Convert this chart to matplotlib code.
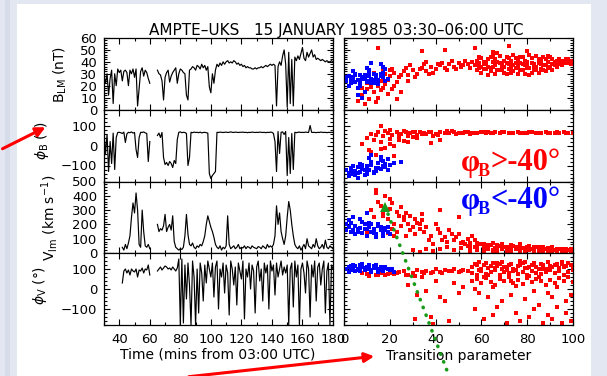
import matplotlib
matplotlib.use("Agg")
import matplotlib.pyplot as plt
import numpy as np
from matplotlib.patches import Rectangle
from matplotlib.ticker import MultipleLocator

nan = np.nan

# ---- time series, 1-min samples from 03:30 to 06:00 (mins from 03:00) ----
time_min = np.arange(30, 181)

b_lm = [
    28, 22, 30, 12, 26, 33, 5, 30, 20, 34,
    31, 33, 24, 32, 33, 31, 20, 33, 30, 34,
    27, 34, 3, 18, 32, 35, 28, 33, 31, 26,
    22, nan, nan, nan, nan, 33, 30, 29, 24, 8,
    27, 31, 33, 23, 28, 31, 33, 35, 22, 30,
    34, 33, 31, 30, 12, 8, 33, 34, 36, 35,
    33, 37, 36, 34, 38, 35, 37, 33, 36, 19,
    14, 30, 22, 33, 38, 36, 39, 37, 40, 38,
    40, 41, 39, 40, 39, 41, 40, 38, 39, 37,
    38, 36, 37, 35, 36, 35, 35, 34, 34, 35,
    34, 35, 35, 36, 35, 36, 37, 36, 37, 38,
    37, 38, 37, 3, 36, 40, 37, 45, 50, 38,
    2, 48, 5, 42, 3, 44, 41, 45, 42, 47,
    52, 43, 41, 48, 44, 47, 50, 44, 46, 42,
    43, 42, 41, 42, 41, 40, 41, 40, 40, 41,
    40,
]

phi_b = [
    60, -40, 55, -130, 20, -90, 62, -120, 40, 65,
    66, 64, 60, 67, 15, 58, 66, 64, 68, 62,
    65, -20, -60, 40, 66, 65, 68, 63, 60, -80,
    20, nan, nan, nan, nan, 50, 62, 40, 65, -60,
    -95, -85, -100, -80, -90, -110, -75, -90, 30, 66,
    68, 64, 66, 65, 60, -100, -60, 66, 64, 67,
    65, 66, 64, 67, 63, 65, 66, 64, 62, -140,
    -165, -150, -140, -130, 66, 65, 67, 66, 65, 66,
    67, 65, 66, 68, 66, 65, 67, 66, 65, 66,
    66, 67, 65, 66, 64, 66, 65, 67, 66, 65,
    66, 65, 67, 66, 65, 66, 64, 66, 65, 67,
    66, 60, 20, -130, 70, -40, 66, 68, 55, 70,
    -150, 40, -140, 60, -120, 66, 64, 66, 67, 65,
    66, 65, 67, 66, 65, 100, 66, 65, 66, 64,
    66, 65, 67, 66, 65, 66, 64, 66, 65, 66,
    65,
]

v_lm = [
    nan, nan, nan, nan, nan, nan, nan, nan, nan, nan,
    nan, nan, 40, 20, 60, 30, 70, 120, 250, 350,
    280, 420, 300, 60, 40, 300, 150, 50, 40, 60,
    30, nan, nan, nan, nan, 200, 150, 170, 160, 190,
    270, 150, 180, 200, 160, 260, 80, 40, 30, 20,
    30, 25, 40, 120, 270, 130, 60, 50, 70, 40,
    30, 50, 40, 60, 50, 80, 120, 200, 260, 220,
    180, 150, 110, 60, 40, 30, 50, 20, 40, 30,
    50, 260, 60, 30, 40, 50, 30, 40, 60, 30,
    40, 35, 50, 30, 45, 40, 30, 50, 40, 35,
    30, 45, 40, 30, 50, 40, 30, 60, 40, 50,
    40, 60, 120, 330, 200, 280, 150, 100, 60, 120,
    250, 360, 300, 200, 120, 60, 40, 30, 50, 20,
    40, 60, 30, 100, 50, 40, 30, 60, 40, 100,
    50, 30, 40, 60, 30, 90, 40, 30, 50, 40,
    30,
]

phi_v = [
    nan, nan, nan, nan, nan, nan, nan, nan, nan, nan,
    nan, nan, 30, 90, 100, 80, 95, 70, 100, 90,
    85, 100, 60, 95, 90, 105, 80, 100, 95, 120,
    70, nan, nan, nan, nan, 90, 100, 110, 95, 105,
    115, 110, 100, 105, 95, 110, 100, 90, 105, 150,
    -180, 150, -170, 120, -50, 130, 20, -180, 140, 60,
    -180, 100, -120, 130, 80, -60, 120, 30, 140, 100,
    60, 130, -40, 110, 140, -100, 100, 60, 130, -20,
    120, 80, -130, 140, 100, 20, 110, -80, 130, 90,
    50, 140, -150, 100, 60, 130, 0, 120, 90, -120,
    110, 140, 40, 100, -60, 130, 80, 120, -100, 140,
    90, 120, -30, 130, 60, 100, 140, 70, 110, 80,
    120, -180, 100, 130, -90, 140, 60, 120, -180, 100,
    130, 80, -20, 140, 100, -140, 120, 60, 140, -60,
    110, 130, 20, 100, 140, -120, 90, 130, -180, 120,
    100,
]

# ---- scatter vs transition parameter ----
# B_LM
b_blue_tp = [1, 2, 3, 4, 5, 6, 7, 8, 9, 10, 11, 12, 13, 14, 15, 16, 17, 18,
             2, 4, 6, 8, 10, 12, 14, 16, 3, 5, 7, 9, 11, 13, 15, 17, 8, 12, 16, 6, 10, 18,
             1, 3, 5, 7, 9, 11, 13, 15, 17, 19]
b_blue = [24, 28, 22, 26, 30, 25, 20, 27, 29, 24, 31, 26, 22, 28, 25, 30, 27, 24,
          20, 32, 18, 26, 35, 22, 29, 38, 27, 23, 29, 15, 33, 25, 21, 36, 10, 39, 28, 12, 23, 34,
          27, 25, 29, 23, 26, 28, 30, 23, 31, 26]
b_red_tp = [6, 8, 9, 11, 12, 13, 15, 16, 17, 19, 21, 23, 25, 10, 14, 18, 22, 8,
            10, 12, 14, 16, 18, 20, 22, 24, 26, 28, 30, 32, 34, 36, 38, 40, 42, 44,
            15, 19, 23, 27, 31, 35, 39, 43, 13, 17, 21, 25, 29, 33, 37, 41, 45, 20, 28, 36,
            46, 48, 50, 52, 54, 56, 47, 49, 51, 53, 55, 57, 44, 34, 15, 57, 72, 80, 65,
            58, 60, 62, 64, 66, 68, 70, 72, 74, 76, 78, 80, 82, 84, 86, 88, 90, 92, 94, 96, 98, 100,
            58, 60, 62, 64, 66, 68, 70, 72, 74, 76, 78, 80, 82, 84, 86, 88, 90, 92, 94, 96, 98, 100,
            58, 60, 62, 64, 66, 68, 70, 72, 74, 76, 78, 80, 82, 84, 86, 88, 90, 92, 94, 96, 98, 100,
            59, 61, 63, 65, 67, 69, 71, 73, 75, 77, 79, 81, 83, 85, 87, 89, 91, 93, 95, 97, 99,
            59, 61, 63, 65, 67, 69, 71, 73, 75, 77, 79, 81, 83, 85, 87, 89, 91, 93, 95, 97, 99,
            59, 61, 63, 65, 67, 69, 71, 73, 75, 77, 79, 81, 83, 85, 87, 89, 91, 93, 95, 97, 99]
b_red = [7, 12, 5, 9, 19, 15, 10, 16, 18, 13, 17, 9, 15, 17, 6, 21, 20, 18,
         22, 26, 29, 24, 30, 28, 31, 27, 32, 29, 33, 30, 35, 32, 36, 34, 37, 35,
         20, 25, 23, 35, 27, 38, 31, 39, 31, 33, 34, 29, 37, 34, 30, 38, 33, 33, 24, 40,
         38, 36, 39, 37, 38, 40, 41, 34, 36, 41, 35, 37, 50, 49, 52, 52, 53, 49, 48,
         41, 43, 40, 44, 42, 45, 41, 43, 46, 42, 44, 40, 43, 45, 41, 42, 44, 40, 42, 41, 42, 41,
         37, 36, 38, 35, 37, 39, 36, 38, 37, 36, 38, 37, 39, 36, 38, 37, 36, 38, 39, 40, 40, 40,
         33, 31, 34, 32, 30, 33, 31, 34, 32, 30, 33, 35, 31, 33, 34, 32, 35, 37, 38, 39, 39, 40,
         39, 34, 42, 36, 40, 34, 44, 36, 39, 33, 41, 35, 38, 42, 33, 40, 38, 41, 39, 41, 41,
         35, 40, 29, 45, 33, 38, 30, 41, 35, 44, 37, 29, 34, 31, 44, 35, 42, 39, 41, 39, 40,
         44, 38, 36, 40, 47, 35, 39, 31, 43, 39, 30, 46, 36, 39, 37, 45, 33, 36, 37, 42, 38]

# phi_B
pb_blue_tp = [1, 2, 3, 4, 5, 6, 7, 8, 9, 10, 11, 12, 13, 14, 15, 16, 17, 18, 19, 20,
              2, 4, 6, 8, 10, 12, 14, 16, 18, 3, 5, 9, 11, 13, 15, 17, 7, 19, 22, 25, 6, 12, 16]
pb_blue = [-120, -135, -110, -140, -125, -105, -130, -115, -145, -100, -120, -95, -130, -110,
           -85, -115, -100, -90, -120, -95,
           -150, -100, -135, -95, -140, -80, -125, -70, -105, -130, -145, -120, -60, -135, -110, -75,
           -90, -65, -85, -80, -160, -45, -55]
pb_red_tp = [8, 10, 11, 12, 13, 14, 15, 16, 17, 18, 19, 20, 21, 22, 23, 24, 25, 26, 27, 28,
             29, 30, 31, 32, 33, 34, 35, 12, 14, 16, 18, 20, 22, 24, 26, 28, 30, 32, 16, 20, 24,
             38, 42,
             36, 38, 40, 42, 44, 46, 48, 50, 52, 54, 56, 58, 60, 62, 64, 66, 68, 70, 72, 74, 76,
             78, 80, 82, 84, 86, 88, 90, 92, 94, 96, 98, 100,
             37, 41, 45, 49, 53, 57, 61, 65, 69, 73, 77, 81, 85, 89, 93, 97, 39, 47, 55, 63]
pb_red = [10, 40, -20, 60, 30, -45, 70, 20, 50, -10, 65, 35, 55, 0, 70, 40, 60, 25, 68, 50,
          62, 45, 66, 55, 70, 58, 65, -30, 55, 100, 75, 10, -50, 30, 72, 20, 68, 40, -15, 80, 50,
          15, 30,
          60, 66, 58, 68, 64, 62, 67, 65, 63, 66, 64, 65, 66, 64, 65, 67, 64, 66, 65, 64, 66,
          65, 64, 66, 65, 64, 66, 65, 64, 65, 66, 64, 65,
          70, 55, 72, 60, 68, 63, 66, 64, 67, 65, 63, 66, 64, 65, 66, 64, 50, 75, 58, 70]

# V_lm
v_blue_tp = [1, 2, 3, 4, 5, 6, 7, 8, 9, 10, 11, 12, 13, 14, 15, 16, 17, 18, 19, 20,
             2, 4, 6, 8, 10, 12, 14, 16, 18, 3, 5, 7, 9, 11, 13, 15, 17, 19, 1, 10]
v_blue = [200, 180, 210, 160, 190, 150, 175, 140, 200, 165, 185, 150, 170, 130, 190, 160, 145, 175, 150, 135,
          230, 250, 170, 220, 120, 200, 110, 180, 160, 150, 130, 240, 170, 210, 140, 200, 120, 180, 160, 280]
v_red_tp = [10, 12, 13, 14, 15, 16, 17, 18, 19, 20, 21, 22, 23, 24, 25, 26, 27, 28, 29, 30,
            31, 32, 33, 34, 35, 11, 15, 17, 19, 21, 23, 25, 27, 29, 31, 33, 14, 20, 26, 18, 22,
            36, 38, 40, 42, 44, 46, 48, 50, 52, 54, 56, 58, 37, 41, 45, 49, 53, 57, 39, 43, 47, 51, 55,
            34, 42, 50,
            30, 33, 36, 39, 42, 45, 48, 51, 54, 57, 60, 62, 64, 66, 68, 70, 72, 74, 76, 78, 80,
            82, 84, 86, 88, 90, 92, 94, 96, 98, 100,
            55, 58, 61, 63, 65, 67, 69, 71, 73, 75, 77, 79, 81, 83, 85, 87, 89, 91, 93, 95, 97, 99,
            55, 58, 61, 63, 65, 67, 69, 71, 73, 75, 77, 79, 81, 83, 85, 87, 89, 91, 93, 95, 97, 99,
            55, 58, 61, 63, 65, 67, 69, 71, 73, 75, 77, 79, 81, 83, 85, 87, 89, 91, 93, 95, 97, 99]
v_red = [150, 300, 250, 420, 360, 330, 280, 400, 240, 310, 350, 200, 290, 260, 320, 230, 280, 200, 260, 180,
         240, 210, 170, 230, 150, 210, 190, 260, 140, 170, 150, 190, 120, 160, 130, 200, 440, 380, 250, 170, 120,
         180, 120, 200, 140, 110, 160, 90, 130, 80, 100, 120, 70, 90, 170, 80, 110, 60, 90, 60, 90, 130, 70, 50,
         270, 300, 250,
         20, 10, 30, 15, 25, 40, 20, 35, 50, 45, 60, 40, 55, 35, 50, 45, 30, 50, 40, 35, 45,
         30, 40, 35, 25, 30, 20, 25, 15, 20, 10,
         30, 20, 35, 25, 20, 30, 25, 20, 30, 25, 15, 25, 20, 30, 15, 20, 25, 10, 15, 20, 10, 15,
         70, 50, 65, 45, 70, 55, 60, 40, 55, 45, 60, 35, 50, 40, 45, 40, 35, 40, 30, 30, 25, 20,
         10, 40, 15, 55, 10, 15, 40, 10, 15, 35, 45, 10, 30, 10, 30, 10, 10, 30, 25, 10, 20, 25]

# phi_V
pv_blue_tp = [1, 2, 3, 4, 5, 6, 7, 8, 9, 10, 11, 12, 13, 14, 15, 16, 17, 18, 19, 20, 21, 22,
              2, 4, 6, 8, 10, 12, 14, 16, 18, 3, 5, 7, 9, 11, 13, 15]
pv_blue = [100, 110, 95, 105, 115, 100, 90, 110, 105, 100, 120, 95, 105, 115, 100, 110, 90, 105, 100, 95, 100, 85,
           85, 120, 95, 125, 110, 85, 120, 95, 110, 115, 90, 120, 95, 105, 115, 85]
pv_red_tp = [8, 10, 12, 14, 16, 18, 20, 22, 24, 26, 28, 30, 32, 34, 36, 38, 40, 42, 44, 46, 48, 50, 52, 54,
             11, 15, 19, 23, 27, 31, 35, 39, 43, 47, 51,
             28, 32, 36, 40, 44, 48, 52, 31, 38, 46, 34, 42, 50, 39,
             56, 58, 60, 62, 64, 66, 68, 70, 72, 74, 76, 78, 80, 82, 84, 86, 88, 90, 92, 94, 96, 98, 100,
             56, 58, 60, 62, 64, 66, 68, 70, 72, 74, 76, 78, 80, 82, 84, 86, 88, 90, 92, 94, 96, 98, 100,
             56, 58, 60, 62, 64, 66, 68, 70, 72, 74, 76, 78, 80, 82, 84, 86, 88, 90, 92, 94, 96, 98, 100,
             57, 59, 61, 63, 65, 67, 69, 71, 73, 75, 77, 79, 81, 83, 85, 87, 89, 91, 93, 95, 97, 99,
             57, 59, 61, 63, 65, 67, 69, 71, 73, 75, 77, 79, 81, 83, 85, 87, 89, 91, 93, 95, 97, 99,
             57, 59, 61, 63, 65, 67, 69, 71, 73, 75, 77, 79, 81, 83, 85, 87, 89, 91, 93, 95, 97, 99]
pv_red = [80, 75, 85, 70, 78, 72, 80, 75, 85, 90, 70, 80, 95, 85, 90, 80, 100, 85, 95, 90, 100, 85, 95, 90,
          65, 70, 75, 80, 72, 65, 78, 85, 80, 92, 88,
          20, -30, -10, 40, -60, 30, 10, -150, -140, -160, 60, -40, -20, -175,
          110, 120, 100, 130, 115, 105, 125, 110, 120, 100, 115, 130, 105, 120, 110, 125, 100, 115, 120, 105, 110, 130, 100,
          80, 70, 90, 75, 85, 95, 70, 85, 80, 90, 75, 85, 70, 90, 80, 75, 85, 95, 80, 90, 70, 85, 95,
          40, 50, 30, 55, 35, 20, 50, 40, 60, 30, 45, 25, 55, 35, 50, 40, 20, 45, 30, 55, 40, 60, 35,
          0, -20, 60, -40, 10, 130, -60, 95, -30, 15, 140, -50, 65, -10, -80, 100, -20, -40, 10, 125, -60, -30,
          -100, 135, -150, 70, -130, -90, 100, -170, 40, -120, -160, 105, -140, -100, 60, -170, -130, -150, -90, -170, -120, -160,
          125, 95, 120, 105, 130, 115, 135, 110, 125, 95, 120, 135, 110, 130, 100, 120, 135, 110, 125, 135, 115, 120]

W, H = 607, 376
SANS = "DejaVu Sans"

fig = plt.figure(figsize=(W / 100, H / 100), dpi=100, facecolor="#e3e7f1")

bg = fig.add_axes([0, 0, 1, 1], zorder=-5)
bg.set_xlim(0, W)
bg.set_ylim(H, 0)
bg.axis("off")
bg.add_patch(Rectangle((5, 0), 5, H, color="#d6dce9", lw=0))
bg.add_patch(Rectangle((17, 4), 574, H, color="white", lw=0))


def px_axes(x0, y0, x1, y1):
    return fig.add_axes([x0 / W, 1 - y1 / H, (x1 - x0) / W, (y1 - y0) / H])


def style(ax, xlim, ylim, xmaj, ymaj, ymin):
    ax.set_xlim(*xlim)
    ax.set_ylim(*ylim)
    ax.xaxis.set_major_locator(MultipleLocator(xmaj))
    ax.xaxis.set_minor_locator(MultipleLocator(xmaj / 2))
    ax.yaxis.set_major_locator(MultipleLocator(ymaj))
    ax.yaxis.set_minor_locator(MultipleLocator(ymin))
    ax.tick_params(which="both", direction="in", top=True, right=True, width=0.8,
                   labelsize=9.5, colors="black", pad=5)
    ax.tick_params(which="major", length=4)
    ax.tick_params(which="minor", length=2)
    for s in ax.spines.values():
        s.set_linewidth(0.9)
    for lab in ax.get_xticklabels() + ax.get_yticklabels():
        lab.set_fontfamily(SANS)


rows = [(38, 109.5), (109.5, 181.5), (181.5, 253), (253, 325)]
ylims = [(0, 60), (-180, 180), (0, 500), (-180, 180)]
ymajs = [10, 100, 100, 100]
ymins = [2, 20, 20, 20]
series = [b_lm, phi_b, v_lm, phi_v]
scat = [(b_red_tp, b_red, b_blue_tp, b_blue),
        (pb_red_tp, pb_red, pb_blue_tp, pb_blue),
        (v_red_tp, v_red, v_blue_tp, v_blue),
        (pv_red_tp, pv_red, pv_blue_tp, pv_blue)]

for i, (top, bot) in enumerate(rows):
    axl = px_axes(104, top, 333, bot)
    axl.plot(time_min, series[i], color="black", lw=0.85)
    style(axl, (30, 180), ylims[i], 20, ymajs[i], ymins[i])
    axl.set_xticks([40, 60, 80, 100, 120, 140, 160, 180])
    if i < 3:
        axl.tick_params(labelbottom=False)
    else:
        axl.tick_params(axis="x", pad=6)

    axr = px_axes(344, top, 573, bot)
    rx, ry, bx, by = scat[i]
    axr.plot(rx, ry, ls="none", marker="s", ms=2.9, mew=0, color="#ff0000")
    axr.plot(bx, by, ls="none", marker="s", ms=2.9, mew=0, color="#0000ff")
    style(axr, (0, 100), ylims[i], 20, ymajs[i], ymins[i])
    axr.tick_params(labelleft=False)
    if i < 3:
        axr.tick_params(labelbottom=False)
    else:
        axr.tick_params(axis="x", pad=6)

fig.text(336 / W, 1 - 30 / H, "AMPTE\u2013UKS   15 JANUARY 1985 03:30\u201306:00 UTC",
         ha="center", va="center", fontsize=11, family=SANS)
fig.text(60 / W, 1 - 74 / H, r"B$_{\rm LM}$ (nT)", rotation=90,
         ha="center", va="center", fontsize=10, family=SANS)
fig.text(42 / W, 1 - 140 / H, r"$\phi_{\rm B}$ ($\degree$)", rotation=90,
         ha="center", va="center", fontsize=10, family=SANS)
fig.text(50 / W, 1 - 218 / H, r"V$_{\rm lm}$ (km s$^{-1}$)", rotation=90,
         ha="center", va="center", fontsize=10, family=SANS)
fig.text(40 / W, 1 - 285 / H, r"$\phi_{\rm V}$ ($\degree$)", rotation=90,
         ha="center", va="center", fontsize=10, family=SANS)
fig.text(218 / W, 1 - 355 / H, "Time (mins from 03:00 UTC)",
         ha="center", va="center", fontsize=10, family=SANS)
fig.text(459 / W, 1 - 356 / H, "Transition parameter",
         ha="center", va="center", fontsize=10, family=SANS)

# overlay annotations in pixel coordinates
ov = fig.add_axes([0, 0, 1, 1], zorder=10)
ov.set_xlim(0, W)
ov.set_ylim(H, 0)
ov.axis("off")
ov.patch.set_alpha(0)

for (x0, y0), (x1, y1) in [((0, 150), (48, 126)), ((186, 377), (377, 356))]:
    ov.annotate("", xy=(x1, y1), xytext=(x0, y0),
                arrowprops=dict(arrowstyle="-|>", color="#ff0000", lw=2.2, mutation_scale=14))

ov.plot([388, 449], [214, 376], color="#1a9a1a", lw=2.6, ls=(0, (0.1, 2.2)),
        dash_capstyle="round")
ov.plot([385], [207], marker="^", ms=7, color="#1a9a1a", mew=0)

serif = "Liberation Serif"
for y, sym, col in [(163, ">-40\u00b0", "#ff0000"), (201, "<-40\u00b0", "#0000ff")]:
    ov.text(461, y, "\u03c6", color=col, fontsize=22, fontweight="bold",
            family=serif, ha="left", va="center")
    ov.text(478, y + 9, "B", color=col, fontsize=13, fontweight="bold",
            family=serif, ha="left", va="center")
    ov.text(490, y, sym, color=col, fontsize=22, fontweight="bold",
            family=serif, ha="left", va="center")

fig.savefig("out.png", dpi=100, facecolor=fig.get_facecolor())
